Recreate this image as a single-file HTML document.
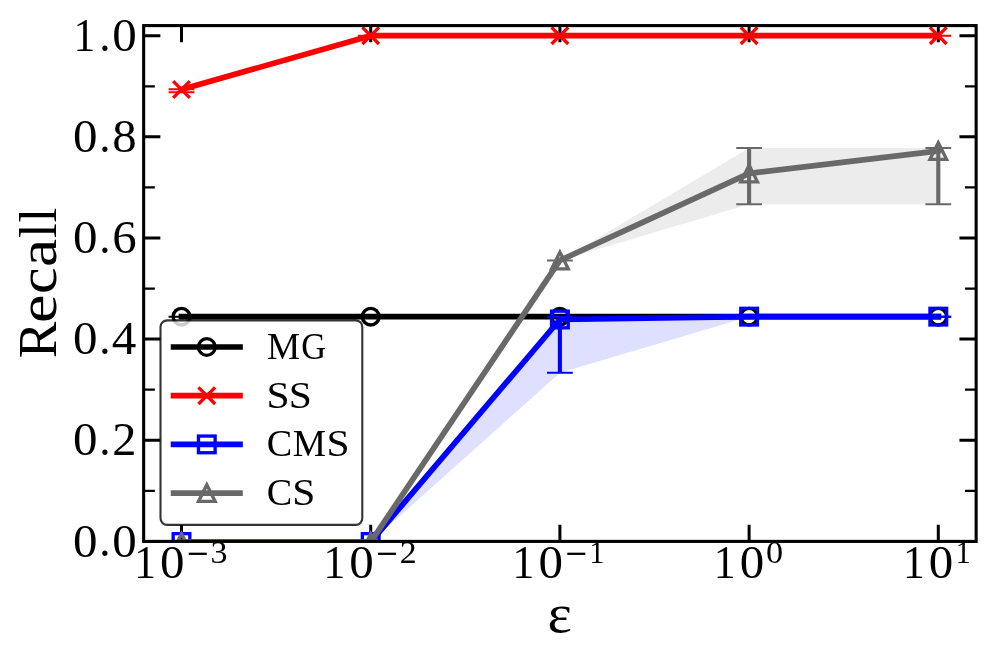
<!DOCTYPE html>
<html><head><meta charset="utf-8"><title>Recall vs epsilon</title>
<style>html,body{margin:0;padding:0;background:#fff;overflow:hidden;width:996px;height:664px;}svg{display:block;will-change:transform;}text{font-family:"Liberation Serif",serif;fill:#000;}</style></head><body>
<svg width="996" height="664" viewBox="0 0 996 664">
<rect x="0" y="0" width="996" height="664" fill="#fff"/>
<defs><clipPath id="ax"><rect x="143.66" y="25.59" width="832.48" height="514.31"/></clipPath></defs>
<path d="M143.66,541.40H160.36M976.14,541.40H959.44M143.66,440.26H160.36M976.14,440.26H959.44M143.66,339.12H160.36M976.14,339.12H959.44M143.66,237.98H160.36M976.14,237.98H959.44M143.66,136.84H160.36M976.14,136.84H959.44M143.66,35.70H160.36M976.14,35.70H959.44M181.50,541.40V524.70M181.50,25.59V42.29M370.70,541.40V524.70M370.70,25.59V42.29M559.90,541.40V524.70M559.90,25.59V42.29M749.10,541.40V524.70M749.10,25.59V42.29M938.30,541.40V524.70M938.30,25.59V42.29" stroke="#000" stroke-width="3.0" fill="none"/>
<path d="M143.66,490.83H154.86M976.14,490.83H964.94M143.66,389.69H154.86M976.14,389.69H964.94M143.66,288.55H154.86M976.14,288.55H964.94M143.66,187.41H154.86M976.14,187.41H964.94M143.66,86.27H154.86M976.14,86.27H964.94" stroke="#000" stroke-width="2.25" fill="none"/>
<g clip-path="url(#ax)">
<polygon points="181.50,542.00 370.70,542.00 559.90,316.64 749.10,316.64 938.30,316.64 938.30,316.64 749.10,316.64 559.90,372.83 370.70,542.00 181.50,542.00" fill="#dfdfff"/>
<polygon points="181.50,542.00 370.70,542.00 559.90,260.46 749.10,148.08 938.30,148.08 938.30,204.27 749.10,204.27 559.90,260.46 370.70,542.00 181.50,542.00" fill="#ececec"/>
<path d="M168.60,316.64H194.40M168.60,316.64H194.40M357.80,316.64H383.60M357.80,316.64H383.60M547.00,316.64H572.80M547.00,316.64H572.80M736.20,316.64H762.00M736.20,316.64H762.00M925.40,316.64H951.20M925.40,316.64H951.20" stroke="#000000" stroke-width="2.0" fill="none"/>
<polyline points="181.50,316.64 370.70,316.64 559.90,316.64 749.10,316.64 938.30,316.64" stroke="#000000" stroke-width="5.7" fill="none" stroke-linecap="square" stroke-linejoin="round"/>
<circle cx="181.50" cy="316.64" r="8.335" stroke="#000000" stroke-width="3.33" fill="none"/>
<circle cx="370.70" cy="316.64" r="8.335" stroke="#000000" stroke-width="3.33" fill="none"/>
<circle cx="559.90" cy="316.64" r="8.335" stroke="#000000" stroke-width="3.33" fill="none"/>
<circle cx="749.10" cy="316.64" r="8.335" stroke="#000000" stroke-width="3.33" fill="none"/>
<circle cx="938.30" cy="316.64" r="8.335" stroke="#000000" stroke-width="3.33" fill="none"/>
<path d="M181.50,92.19V89.20" stroke="#ff0000" stroke-width="4.1" fill="none"/>
<path d="M168.60,92.19H194.40M168.60,89.20H194.40M357.80,35.70H383.60M357.80,35.70H383.60M547.00,35.70H572.80M547.00,35.70H572.80M736.20,35.70H762.00M736.20,35.70H762.00M925.40,35.70H951.20M925.40,35.70H951.20" stroke="#ff0000" stroke-width="2.0" fill="none"/>
<polyline points="181.50,89.51 370.70,35.70 559.90,35.70 749.10,35.70 938.30,35.70" stroke="#ff0000" stroke-width="5.7" fill="none" stroke-linecap="square" stroke-linejoin="round"/>
<path d="M173.16,81.17L189.84,97.84M173.16,97.84L189.84,81.17" stroke="#ff0000" stroke-width="3.33" fill="none" stroke-linecap="butt"/>
<path d="M362.37,27.36L379.03,44.03M362.37,44.03L379.03,27.36" stroke="#ff0000" stroke-width="3.33" fill="none" stroke-linecap="butt"/>
<path d="M551.56,27.36L568.24,44.03M551.56,44.03L568.24,27.36" stroke="#ff0000" stroke-width="3.33" fill="none" stroke-linecap="butt"/>
<path d="M740.76,27.36L757.43,44.03M740.76,44.03L757.43,27.36" stroke="#ff0000" stroke-width="3.33" fill="none" stroke-linecap="butt"/>
<path d="M929.96,27.36L946.63,44.03M929.96,44.03L946.63,27.36" stroke="#ff0000" stroke-width="3.33" fill="none" stroke-linecap="butt"/>
<path d="M559.90,372.83V316.64" stroke="#0000ff" stroke-width="4.1" fill="none"/>
<path d="M168.60,542.00H194.40M168.60,542.00H194.40M357.80,542.00H383.60M357.80,542.00H383.60M547.00,372.83H572.80M547.00,316.64H572.80M736.20,316.64H762.00M736.20,316.64H762.00M925.40,316.64H951.20M925.40,316.64H951.20" stroke="#0000ff" stroke-width="2.0" fill="none"/>
<polyline points="181.50,542.00 370.70,542.00 559.90,319.50 749.10,316.64 938.30,316.64" stroke="#0000ff" stroke-width="5.7" fill="none" stroke-linecap="square" stroke-linejoin="round"/>
<rect x="173.16" y="533.66" width="16.67" height="16.67" stroke="#0000ff" stroke-width="3.33" fill="none" stroke-linejoin="miter"/>
<rect x="362.37" y="533.66" width="16.67" height="16.67" stroke="#0000ff" stroke-width="3.33" fill="none" stroke-linejoin="miter"/>
<rect x="551.56" y="311.16" width="16.67" height="16.67" stroke="#0000ff" stroke-width="3.33" fill="none" stroke-linejoin="miter"/>
<rect x="740.76" y="308.31" width="16.67" height="16.67" stroke="#0000ff" stroke-width="3.33" fill="none" stroke-linejoin="miter"/>
<rect x="929.96" y="308.31" width="16.67" height="16.67" stroke="#0000ff" stroke-width="3.33" fill="none" stroke-linejoin="miter"/>
<path d="M749.10,204.27V148.08M938.30,204.27V148.08" stroke="#696969" stroke-width="4.1" fill="none"/>
<path d="M168.60,542.00H194.40M168.60,542.00H194.40M357.80,542.00H383.60M357.80,542.00H383.60M547.00,260.46H572.80M547.00,260.46H572.80M736.20,204.27H762.00M736.20,148.08H762.00M925.40,204.27H951.20M925.40,148.08H951.20" stroke="#696969" stroke-width="2.0" fill="none"/>
<polyline points="181.50,542.00 370.70,542.00 559.90,260.46 749.10,173.45 938.30,151.00" stroke="#696969" stroke-width="5.7" fill="none" stroke-linecap="square" stroke-linejoin="round"/>
<path d="M181.50,533.66L173.16,550.34L189.84,550.34Z" stroke="#696969" stroke-width="3.33" fill="none" stroke-linejoin="miter" stroke-miterlimit="10"/>
<path d="M370.70,533.66L362.37,550.34L379.03,550.34Z" stroke="#696969" stroke-width="3.33" fill="none" stroke-linejoin="miter" stroke-miterlimit="10"/>
<path d="M559.90,252.12L551.56,268.79L568.24,268.79Z" stroke="#696969" stroke-width="3.33" fill="none" stroke-linejoin="miter" stroke-miterlimit="10"/>
<path d="M749.10,165.12L740.76,181.79L757.43,181.79Z" stroke="#696969" stroke-width="3.33" fill="none" stroke-linejoin="miter" stroke-miterlimit="10"/>
<path d="M938.30,142.66L929.96,159.33L946.63,159.33Z" stroke="#696969" stroke-width="3.33" fill="none" stroke-linejoin="miter" stroke-miterlimit="10"/>
</g>
<rect x="143.66" y="25.59" width="832.48" height="515.81" fill="none" stroke="#000" stroke-width="3.1" stroke-linejoin="miter"/>
<rect x="160.5" y="320.4" width="201.80" height="204.50" rx="6.7" ry="6.7" fill="#fff" fill-opacity="0.8" stroke="#000" stroke-opacity="0.8" stroke-width="2.1"/>
<line x1="173.6" y1="347.00" x2="240.0" y2="347.00" stroke="#000000" stroke-width="5.7" stroke-linecap="square"/>
<circle cx="206.80" cy="347.00" r="8.335" stroke="#000000" stroke-width="3.33" fill="none"/>
<line x1="173.6" y1="395.70" x2="240.0" y2="395.70" stroke="#ff0000" stroke-width="5.7" stroke-linecap="square"/>
<path d="M198.47,387.37L215.14,404.03M198.47,404.03L215.14,387.37" stroke="#ff0000" stroke-width="3.33" fill="none" stroke-linecap="butt"/>
<line x1="173.6" y1="444.40" x2="240.0" y2="444.40" stroke="#0000ff" stroke-width="5.7" stroke-linecap="square"/>
<rect x="198.47" y="436.06" width="16.67" height="16.67" stroke="#0000ff" stroke-width="3.33" fill="none" stroke-linejoin="miter"/>
<line x1="173.6" y1="493.10" x2="240.0" y2="493.10" stroke="#696969" stroke-width="5.7" stroke-linecap="square"/>
<path d="M206.80,484.77L198.47,501.44L215.14,501.44Z" stroke="#696969" stroke-width="3.33" fill="none" stroke-linejoin="miter" stroke-miterlimit="10"/>
<text><tspan x="73.03" y="556.53" font-size="46.18" textLength="24.49" lengthAdjust="spacingAndGlyphs">0</tspan><tspan x="99.29" y="556.34" font-size="45.46" textLength="11.32" lengthAdjust="spacingAndGlyphs">.</tspan><tspan x="112.34" y="556.53" font-size="46.18" textLength="24.49" lengthAdjust="spacingAndGlyphs">0</tspan></text>
<text><tspan x="73.03" y="455.39" font-size="46.18" textLength="24.49" lengthAdjust="spacingAndGlyphs">0</tspan><tspan x="99.29" y="455.20" font-size="45.46" textLength="11.32" lengthAdjust="spacingAndGlyphs">.</tspan><tspan x="112.16" y="455.26" font-size="46.18" textLength="24.16" lengthAdjust="spacingAndGlyphs">2</tspan></text>
<text><tspan x="73.03" y="354.25" font-size="46.18" textLength="24.49" lengthAdjust="spacingAndGlyphs">0</tspan><tspan x="99.29" y="354.06" font-size="45.46" textLength="11.32" lengthAdjust="spacingAndGlyphs">.</tspan><tspan x="111.79" y="354.12" font-size="46.46" textLength="24.60" lengthAdjust="spacingAndGlyphs">4</tspan></text>
<text><tspan x="73.03" y="253.11" font-size="46.18" textLength="24.49" lengthAdjust="spacingAndGlyphs">0</tspan><tspan x="99.29" y="252.92" font-size="45.46" textLength="11.32" lengthAdjust="spacingAndGlyphs">.</tspan><tspan x="112.15" y="253.11" font-size="46.38" textLength="24.41" lengthAdjust="spacingAndGlyphs">6</tspan></text>
<text><tspan x="73.03" y="151.97" font-size="46.18" textLength="24.49" lengthAdjust="spacingAndGlyphs">0</tspan><tspan x="99.29" y="151.78" font-size="45.46" textLength="11.32" lengthAdjust="spacingAndGlyphs">.</tspan><tspan x="112.38" y="151.97" font-size="46.18" textLength="24.40" lengthAdjust="spacingAndGlyphs">8</tspan></text>
<text><tspan x="73.38" y="50.70" font-size="46.32" textLength="21.77" lengthAdjust="spacingAndGlyphs">1</tspan><tspan x="99.29" y="50.64" font-size="45.46" textLength="11.32" lengthAdjust="spacingAndGlyphs">.</tspan><tspan x="112.34" y="50.83" font-size="46.18" textLength="24.49" lengthAdjust="spacingAndGlyphs">0</tspan></text>
<text><tspan x="134.20" y="578.30" font-size="46.32" textLength="21.77" lengthAdjust="spacingAndGlyphs">1</tspan><tspan x="160.06" y="578.43" font-size="46.18" textLength="24.49" lengthAdjust="spacingAndGlyphs">0</tspan><tspan x="186.98" y="569.07" font-size="45.80" textLength="21.88" lengthAdjust="spacingAndGlyphs">−</tspan><tspan x="210.60" y="562.99" font-size="32.47" textLength="16.96" lengthAdjust="spacingAndGlyphs">3</tspan></text>
<text><tspan x="323.40" y="578.30" font-size="46.32" textLength="21.77" lengthAdjust="spacingAndGlyphs">1</tspan><tspan x="349.26" y="578.43" font-size="46.18" textLength="24.49" lengthAdjust="spacingAndGlyphs">0</tspan><tspan x="376.18" y="569.07" font-size="45.80" textLength="21.88" lengthAdjust="spacingAndGlyphs">−</tspan><tspan x="399.70" y="562.90" font-size="32.33" textLength="16.91" lengthAdjust="spacingAndGlyphs">2</tspan></text>
<text><tspan x="512.60" y="578.30" font-size="46.32" textLength="21.77" lengthAdjust="spacingAndGlyphs">1</tspan><tspan x="538.46" y="578.43" font-size="46.18" textLength="24.49" lengthAdjust="spacingAndGlyphs">0</tspan><tspan x="565.38" y="569.07" font-size="45.80" textLength="21.88" lengthAdjust="spacingAndGlyphs">−</tspan><tspan x="589.27" y="562.90" font-size="32.42" textLength="15.24" lengthAdjust="spacingAndGlyphs">1</tspan></text>
<text><tspan x="713.80" y="578.30" font-size="46.32" textLength="21.77" lengthAdjust="spacingAndGlyphs">1</tspan><tspan x="739.66" y="578.43" font-size="46.18" textLength="24.49" lengthAdjust="spacingAndGlyphs">0</tspan><tspan x="766.06" y="562.99" font-size="32.33" textLength="17.14" lengthAdjust="spacingAndGlyphs">0</tspan></text>
<text><tspan x="903.00" y="578.30" font-size="46.32" textLength="21.77" lengthAdjust="spacingAndGlyphs">1</tspan><tspan x="928.86" y="578.43" font-size="46.18" textLength="24.49" lengthAdjust="spacingAndGlyphs">0</tspan><tspan x="955.50" y="562.90" font-size="32.42" textLength="15.24" lengthAdjust="spacingAndGlyphs">1</tspan></text>
<text><tspan x="267.00" y="358.70" font-size="37.41" textLength="33.19" lengthAdjust="spacingAndGlyphs">M</tspan><tspan x="301.28" y="358.81" font-size="37.82" textLength="24.79" lengthAdjust="spacingAndGlyphs">G</tspan></text>
<text><tspan x="266.45" y="407.51" font-size="37.82" textLength="23.09" lengthAdjust="spacingAndGlyphs">S</tspan><tspan x="288.87" y="407.51" font-size="37.82" textLength="23.09" lengthAdjust="spacingAndGlyphs">S</tspan></text>
<text><tspan x="266.72" y="456.21" font-size="37.82" textLength="25.48" lengthAdjust="spacingAndGlyphs">C</tspan><tspan x="292.71" y="456.10" font-size="37.41" textLength="33.19" lengthAdjust="spacingAndGlyphs">M</tspan><tspan x="326.56" y="456.21" font-size="37.82" textLength="23.09" lengthAdjust="spacingAndGlyphs">S</tspan></text>
<text><tspan x="266.72" y="504.91" font-size="37.82" textLength="25.48" lengthAdjust="spacingAndGlyphs">C</tspan><tspan x="292.15" y="504.91" font-size="37.82" textLength="23.09" lengthAdjust="spacingAndGlyphs">S</tspan></text>
<text><tspan x="547.61" y="631.69" font-size="54.69" textLength="24.38" lengthAdjust="spacingAndGlyphs">ε</tspan></text>
<text transform="rotate(-90)"><tspan x="-358.26" y="55.60" font-size="53.89" textLength="36.59" lengthAdjust="spacingAndGlyphs">R</tspan><tspan x="-323.01" y="55.75" font-size="55.08" textLength="28.57" lengthAdjust="spacingAndGlyphs">e</tspan><tspan x="-294.14" y="55.75" font-size="55.08" textLength="26.60" lengthAdjust="spacingAndGlyphs">c</tspan><tspan x="-266.98" y="55.75" font-size="55.31" textLength="28.17" lengthAdjust="spacingAndGlyphs">a</tspan><tspan x="-237.98" y="55.60" font-size="53.00" textLength="14.77" lengthAdjust="spacingAndGlyphs">l</tspan><tspan x="-222.50" y="55.60" font-size="53.00" textLength="14.77" lengthAdjust="spacingAndGlyphs">l</tspan></text>
</svg></body></html>
